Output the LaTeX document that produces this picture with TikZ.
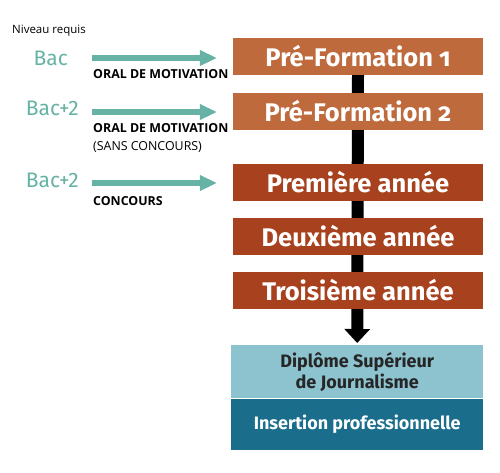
\documentclass[tikz,border=0pt]{standalone}
\usepackage{fontspec}
\setmainfont{Fira Sans}
\newfontfamily\boxfont[Numbers=OldStyle]{Fira Sans}
\newfontfamily\labelfont{Open Sans}
\usetikzlibrary{arrows.meta,backgrounds}
\definecolor{rouille}{HTML}{BF6A3C}
\definecolor{brique}{HTML}{A8421E}
\definecolor{ciel}{HTML}{8DC3CF}
\definecolor{petrole}{HTML}{1A6E8C}
\definecolor{sarcelle}{HTML}{66B3A6}
\tikzset{
  etape/.style={fill=#1, minimum width=250pt, minimum height=37pt, inner sep=0pt,
    text=white, font=\boxfont\bfseries\fontsize{25.5}{27}\selectfont},
  niveau/.style={text=sarcelle, font=\fontsize{21}{23}\selectfont, inner sep=0pt},
  acces/.style={anchor=north west, inner sep=0pt, align=left,
    font=\labelfont\fontsize{12.4}{18}\selectfont},
  fleche/.style={draw=sarcelle, line width=6pt, -{Triangle[width=15pt,length=17pt]}}
}
\begin{document}
\begin{tikzpicture}[x=1pt,y=-1pt]
\useasboundingbox (0,0) rectangle (500,472);
% diplome
\node[fill=ciel, minimum width=252pt, minimum height=53pt, inner sep=0pt, anchor=north west,
  align=center, font=\bfseries\fontsize{18}{21}\selectfont, text=black!85] (dsj) at (231,345)
  {Diplôme Supérieur\\de Journalisme};
\node[fill=petrole, minimum width=252pt, minimum height=51pt, inner sep=0pt, anchor=north,
  text=white, font=\bfseries\fontsize{18}{20}\selectfont] (ins) at (dsj.south)
  {Insertion professionnelle};
% parcours
\node[etape=rouille] (pf1) at (358,56.5) {Pré-Formation 1};
\node[etape=rouille] (pf2) at (358,111) {Pré-Formation 2};
\node[etape=brique] (an1) at (358,182.5) {Première année};
\node[etape=brique] (an2) at (358,236.5) {Deuxième année};
\node[etape=brique] (an3) at (358,290.5) {Troisième année};
\begin{scope}[on background layer]
\draw[line width=12pt, -{Triangle[width=25pt,length=14pt]}, shorten >=2pt] (pf1.south) -- (dsj.north);
\end{scope}
% niveaux requis
\node[anchor=west, inner sep=0pt, font=\labelfont\fontsize{11.5}{12}\selectfont] (titre) at (12,31) {Niveau requis};
\node[niveau, anchor=east] (bac) at (68,58) {Bac};
\node[niveau, anchor=east] (bacA) at (79,108) {Bac+2};
\node[niveau, anchor=east] (bacB) at (79,180) {Bac+2};
\coordinate (d1) at (92,58);
\coordinate (d2) at (92,112);
\coordinate (d3) at (92,183);
\draw[fleche, shorten >=16pt] (d1) -- (d1 -| pf1.west);
\draw[fleche, shorten >=16pt] (d2) -- (d2 -| pf2.west);
\draw[fleche, shorten >=16pt] (d3) -- (d3 -| an1.west);
\node[acces] (o1) at (93,69.5) {\textbf{ORAL DE MOTIVATION}};
\node[acces] (o2) at (93,123.5) {\textbf{ORAL DE MOTIVATION}\\(SANS CONCOURS)};
\node[acces] (o3) at (93,196) {\textbf{CONCOURS}};
\end{tikzpicture}
\end{document}
